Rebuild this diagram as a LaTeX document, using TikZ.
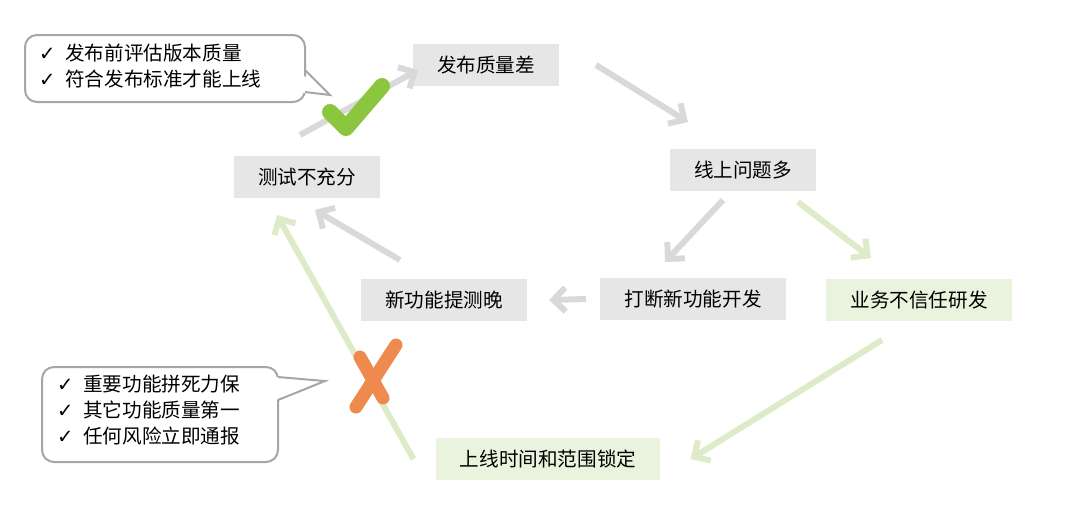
\documentclass[tikz,border=0pt]{standalone}
\usepackage{fontspec}
\setmainfont{Noto Sans CJK SC}
\newfontfamily\djfont{DejaVu Sans}
\usetikzlibrary{arrows.meta}
\definecolor{boxg}{HTML}{E6E6E6}
\definecolor{boxgr}{HTML}{EAF3DD}
\definecolor{arrg}{HTML}{D9D9D9}
\definecolor{arrgr}{HTML}{DDEBC8}
\definecolor{chk}{HTML}{8CC63F}
\definecolor{crs}{HTML}{EE8A4E}
\tikzset{
 gbox/.style={fill=boxg,inner xsep=12pt,inner ysep=6pt,font=\fontsize{9.8}{11}\selectfont},
 grbox/.style={fill=boxgr,inner xsep=12pt,inner ysep=6pt,font=\fontsize{9.8}{11}\selectfont},
 garr/.style={draw=arrg,line width=3pt,-{Straight Barb[length=6pt,width=12pt,line width=3pt]}},
 grarr/.style={draw=arrgr,line width=3pt,-{Straight Barb[length=6pt,width=12pt,line width=3pt]}},
 callout/.style={draw=gray!70,line width=1pt,fill=white,rounded corners=6pt},
 ctext/.style={align=left,font=\fontsize{9.8}{13}\selectfont,anchor=north west}
}
\begin{document}
\begin{tikzpicture}[x=0.5pt,y=-0.5pt]
\useasboundingbox (0,0) rectangle (1080,511);
\node[gbox] (fb) at (486,65) {发布质量差};
\node[gbox] (xs) at (743,170) {线上问题多};
\node[gbox] (cs) at (307,177) {测试不充分};
\node[gbox] (xg) at (444,300) {新功能提测晚};
\node[gbox] (dd) at (693,299) {打断新功能开发};
\node[grbox] (yw) at (919,300) {业务不信任研发};
\node[grbox] (sx) at (548,459) {上线时间和范围锁定};
\draw[garr] ([shift={(-7,-42)}]cs.center) -- ([shift={(-68,5)}]fb.center);
\draw[garr] ([shift={(110,0)}]fb.center) -- ([shift={(-55,-48)}]xs.center);
\draw[garr] ([shift={(-20,30)}]xs.center) -- ([shift={(-78,92)}]xs.center);
\draw[grarr] ([shift={(55,32)}]xs.center) -- ([shift={(128,88)}]xs.center);
\draw[garr] ([xshift=-7pt]dd.west) -- ([xshift=11pt]xg.east);
\draw[garr] ([shift={(-44,-40)}]xg.center) -- ([shift={(8,33)}]cs.center);
\draw[grarr] ([shift={(-37,40)}]yw.center) -- ([xshift=15pt]sx.east);
\draw[grarr] ([xshift=-11pt]sx.west) -- ([shift={(-30,38)}]cs.center);
% check mark
\draw[chk,line width=8pt,line cap=round,line join=round] (330,112) -- (346,128) -- (382,86);
% cross
\draw[crs,line width=6.5pt,line cap=round] (396,345) -- (356,407);
\draw[crs,line width=6.5pt,line cap=round] (360,357) -- (383,398);
% callouts
\draw[callout] (25,35) rectangle (305,102);
\fill[white] (296,70) -- (330,95) -- (296,92) -- cycle;
\draw[gray!70,line width=1pt] (305,70) -- (330,95) -- (305,92);
\node[ctext] (t1) at (32,37) {{\djfont ✓}\enspace 发布前评估版本质量\\{\djfont ✓}\enspace 符合发布标准才能上线};
\draw[callout] (42,367) rectangle (278,462);
\fill[white] (276,377) -- (325,381) -- (276,400) -- cycle;
\draw[gray!70,line width=1pt] (278,377) -- (325,381) -- (278,400);
\node[ctext] (t2) at (50,368) {{\djfont ✓}\enspace 重要功能拼死力保\\{\djfont ✓}\enspace 其它功能质量第一\\{\djfont ✓}\enspace 任何风险立即通报};
\end{tikzpicture}
\end{document}
